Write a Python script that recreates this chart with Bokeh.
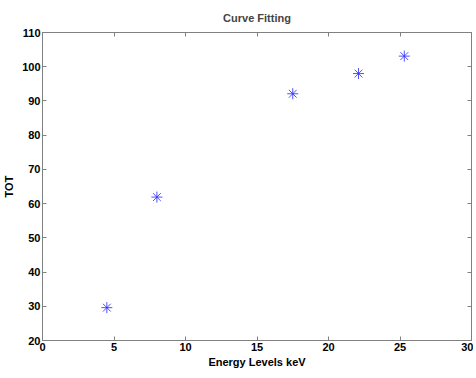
from bokeh.plotting import figure
from bokeh.models import LinearAxis, Range1d, FixedTicker
from bokeh.embed import file_html
from bokeh.resources import INLINE

energy_kev = [4.5, 8.0, 17.5, 22.1, 25.3]
tot = [29.6, 61.9, 92.1, 98.0, 103.1]
x_ticks = [0, 5, 10, 15, 20, 25, 30]
y_ticks = [20, 30, 40, 50, 60, 70, 80, 90, 100, 110]

FONT = "Liberation Sans"

p = figure(frame_width=429, frame_height=308, output_backend="svg", toolbar_location=None,
           x_range=Range1d(0, 30), y_range=Range1d(20, 110),
           min_border_left=10, min_border_right=2, min_border_top=14, min_border_bottom=4)
p.title.text = "Curve Fitting"
p.title.align = "center"
p.title.text_font = FONT
p.title.text_font_size = "11px"
p.title.text_font_style = "bold"
p.title.standoff = 18

p.grid.visible = False
p.outline_line_color = "#808080"
p.background_fill_color = "white"

for ax in [p.xaxis[0], p.yaxis[0]]:
    ax.axis_line_color = "#808080"
    ax.major_tick_line_color = "#808080"
    ax.major_tick_in = 4
    ax.major_tick_out = 0
    ax.minor_tick_line_color = None
    ax.major_label_text_font = FONT
    ax.major_label_text_font_size = "11px"
    ax.major_label_text_font_style = "bold"
    ax.major_label_text_color = "black"
    ax.axis_label_text_font = FONT
    ax.axis_label_text_font_size = "11px"
    ax.axis_label_text_font_style = "bold"
    ax.axis_label_text_color = "black"
    ax.major_label_standoff = 2
    ax.axis_label_standoff = 2

p.xaxis[0].ticker = FixedTicker(ticks=x_ticks)
p.yaxis[0].ticker = FixedTicker(ticks=y_ticks)
p.xaxis[0].axis_label = "Energy Levels keV"
p.yaxis[0].axis_label = "TOT"
p.yaxis[0].axis_label_standoff = 4

for loc, ticks in [("above", x_ticks), ("right", y_ticks)]:
    ax = LinearAxis(ticker=FixedTicker(ticks=ticks))
    ax.axis_line_color = "#808080"
    ax.major_tick_line_color = "#808080"
    ax.major_tick_in = 4
    ax.major_tick_out = 0
    ax.minor_tick_line_color = None
    ax.major_label_overrides = {t: "" for t in ticks}
    ax.major_label_standoff = 0
    p.add_layout(ax, loc)

p.scatter(energy_kev, tot, marker="asterisk", size=11, line_color="#3030ff", line_alpha=0.85, line_width=1)

open("out.html", "w").write(file_html(p, INLINE))
